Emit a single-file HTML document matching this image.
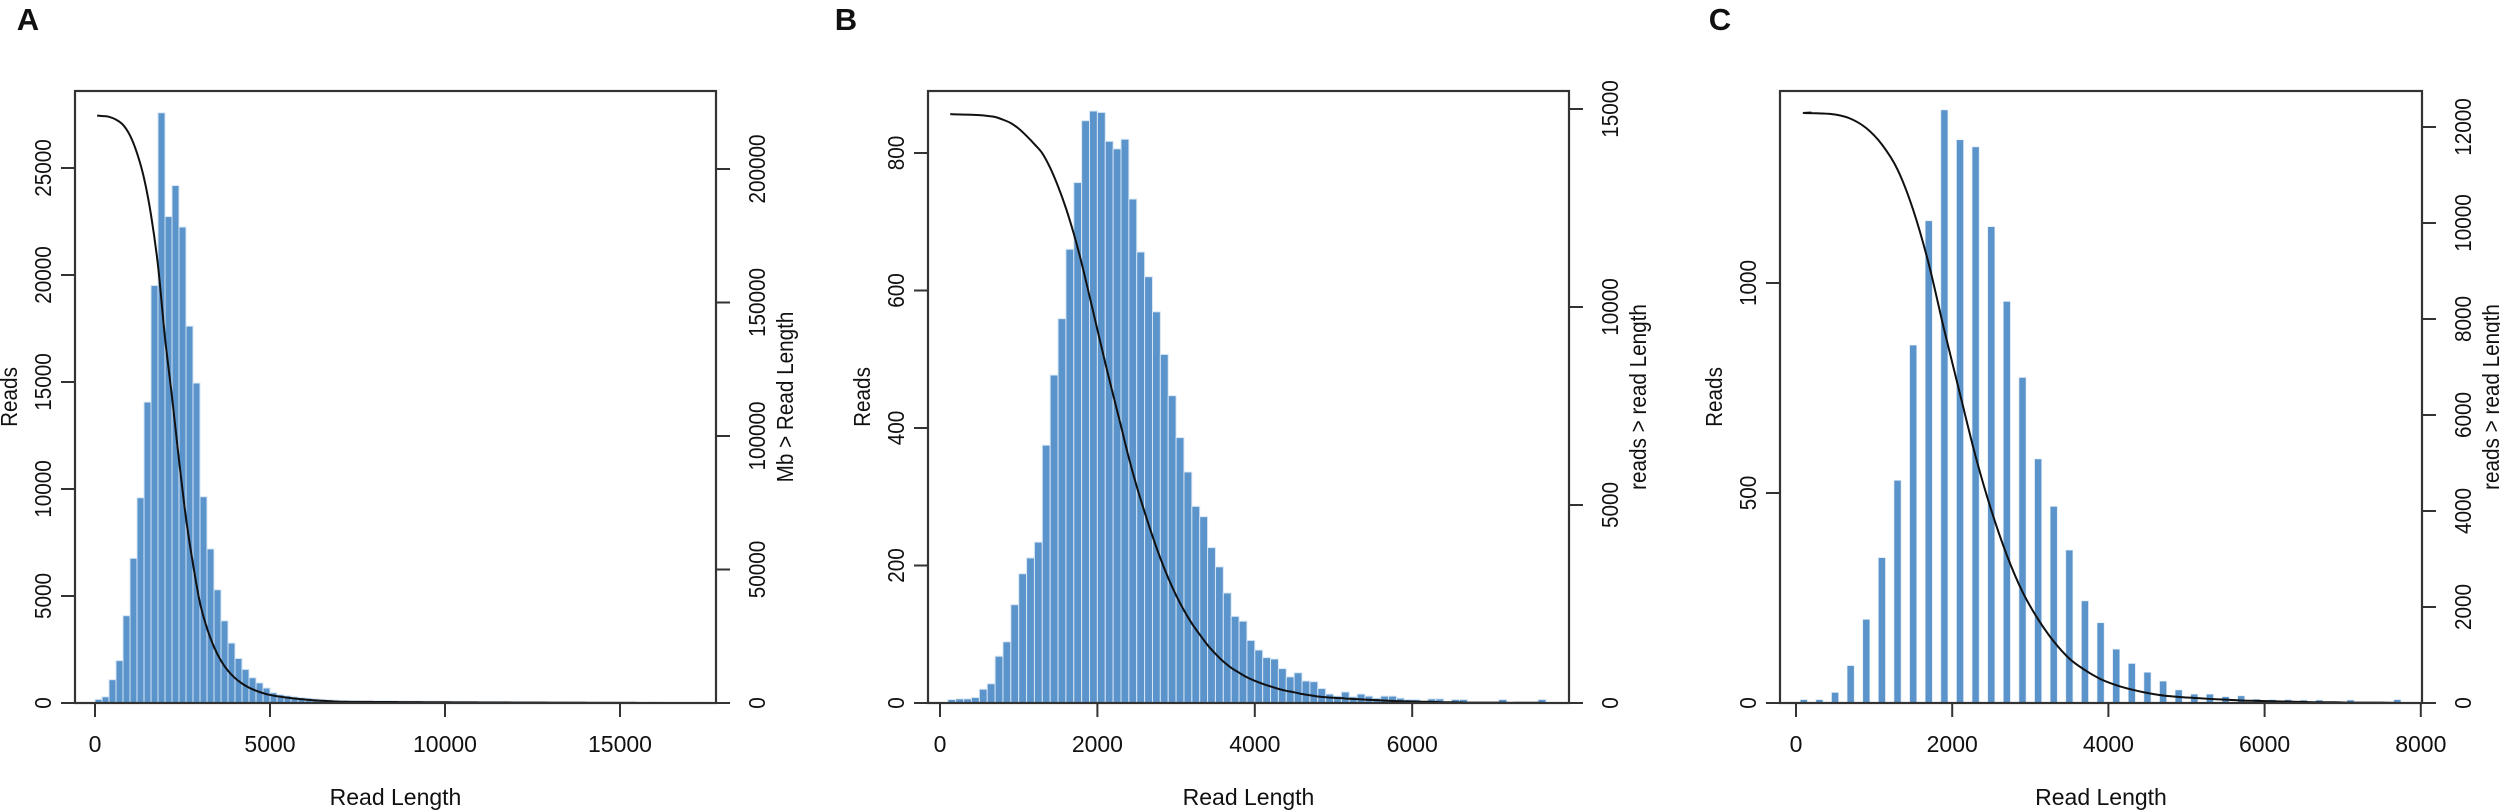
<!DOCTYPE html>
<html><head><meta charset="utf-8"><style>
html,body{margin:0;padding:0;background:#fff;}
svg{display:block;}
text{font-family:"Liberation Sans",Arial,sans-serif;fill:#111;}
</style></head><body>
<svg id="s" width="2500" height="811" viewBox="0 0 2500 811" xmlns="http://www.w3.org/2000/svg">
<text x="28" y="30" font-size="31" font-weight="bold" text-anchor="middle">A</text>
<text x="846" y="30" font-size="31" font-weight="bold" text-anchor="middle">B</text>
<text x="1720" y="30" font-size="31" font-weight="bold" text-anchor="middle">C</text>
</svg>
<script>
const NS="http://www.w3.org/2000/svg";const S=document.getElementById('s');
function el(t,a,txt){const e=document.createElementNS(NS,t);for(const k in a)e.setAttribute(k,a[k]);if(txt!==undefined)e.textContent=txt;S.appendChild(e);return e;}
const Y0=703,YT=91;
function panel(p){
  const X=v=>p.xz+v*p.kx, LY=v=>Y0-v*p.ky, RY=v=>Y0-v*p.kr;
  p.bins.forEach(b=>{const [a,w,c]=b;if(c<=0)return;
    let x1,x2;
    if(p.narrow){const m=X(a+w/2);x1=m-3.5;x2=m+3.5;}else{x1=X(a);x2=X(a+w);}
    el('rect',{x:x1,y:LY(c),width:x2-x1,height:Y0-LY(c),fill:'#5b93cb',stroke:'#d6e6f5','stroke-width':p.narrow?0.6:1});});
  let tot=0;p.bins.forEach(b=>tot+=p.wf(b));
  let rem=tot;const pts=[];
  pts.push([X(p.start),RY(p.top)]);
  p.bins.forEach(b=>{rem-=p.wf(b);const x=b[0]+b[1];pts.push([X(p.narrow?x-b[1]/2:x),RY(p.top*Math.max(0,rem)/tot)]);});
  let d='M'+pts[0][0]+','+pts[0][1];
  for(let i=0;i<pts.length-1;i++){const p0=pts[Math.max(0,i-1)],p1=pts[i],p2=pts[i+1],p3=pts[Math.min(pts.length-1,i+2)];
    d+=` C${p1[0]+(p2[0]-p0[0])/6},${p1[1]+(p2[1]-p0[1])/6} ${p2[0]-(p3[0]-p1[0])/6},${p2[1]-(p3[1]-p1[1])/6} ${p2[0]},${p2[1]}`;}
  el('path',{d:d,fill:'none',stroke:'#111','stroke-width':2});
  el('rect',{x:p.b0,y:YT,width:p.b1-p.b0,height:Y0-YT,fill:'none',stroke:'#333','stroke-width':2.2});
  p.xt.forEach(v=>{el('line',{x1:X(v),y1:Y0,x2:X(v),y2:Y0+14,stroke:'#333','stroke-width':2});
    el('text',{x:X(v),y:752,'font-size':23,'text-anchor':'middle'},String(v));});
  el('text',{x:(p.b0+p.b1)/2,y:805,'font-size':23,'text-anchor':'middle'},'Read Length');
  p.lt.forEach(v=>{el('line',{x1:p.b0,y1:LY(v),x2:p.b0-14,y2:LY(v),stroke:'#333','stroke-width':2});
    el('text',{transform:`translate(${p.b0-24},${LY(v)}) rotate(-90) scale(0.9,1)`,'font-size':23,'text-anchor':'middle'},String(v));});
  p.rt.forEach(v=>{el('line',{x1:p.b1,y1:RY(v),x2:p.b1+14,y2:RY(v),stroke:'#333','stroke-width':2});
    el('text',{transform:`translate(${p.b1+49},${RY(v)}) rotate(-90) scale(0.9,1)`,'font-size':23,'text-anchor':'middle'},String(v));});
  el('text',{transform:`translate(${p.b0-58},397) rotate(-90) scale(0.9,1)`,'font-size':23,'text-anchor':'middle'},'Reads');
  el('text',{transform:`translate(${p.b1+77},397) rotate(-90) scale(0.9,1)`,'font-size':23,'text-anchor':'middle'},p.rlab);
}
const cnt=b=>b[2];
const aC=[170,290,1090,1980,4080,6760,9590,14060,19510,27580,22730,24180,22240,17610,14950,9640,7200,5290,3840,2800,2080,1570,1180,940,700,480,390,340,290,250,220,190,170,150,130,115];
const aB=aC.map((c,i)=>[i*200,200,c]);
for(let s=7200;s<15400;s+=200){aB.push([s,200,Math.round(100-60*(s-7200)/8200)]);}
aB.push([15400,200,40],[15600,200,0],[15800,200,40],[16000,200,40],[16200,200,0],[16400,200,0],[16600,200,0],[16800,200,30],[17000,200,0],[17200,200,30]);
panel({xz:95,kx:0.035,ky:0.0214,kr:0.00267,b0:75,b1:716,bins:aB,wf:b=>b[2]*(b[0]<7000?1:0.15),start:60,top:220000,
  xt:[0,5000,10000,15000],lt:[0,5000,10000,15000,20000,25000],rt:[0,50000,100000,150000,200000],rlab:'Mb > Read Length'});
const bC=[5,6,6,8,20,28,68,89,143,188,211,234,375,477,559,660,757,847,861,859,817,806,820,733,656,620,569,507,447,386,336,286,271,226,198,160,126,119,91,77,66,64,50,38,44,32,31,21,13,10,16,9,13,10,7,10,10,7,5,5,0,6,6,0,5,5,0,0,0,0,5,0,0,0,0,5];
const bB=bC.map((c,i)=>[100+i*100,100,c]);
panel({xz:940,kx:0.0787,ky:0.6875,kr:0.0396,b0:928,b1:1569,bins:bB,wf:cnt,start:130,top:14870,
  xt:[0,2000,4000,6000],lt:[0,200,400,600,800],rt:[0,5000,10000,15000],rlab:'reads > read Length'});
const cC=[8,8,25,89,199,346,530,852,1148,1412,1341,1324,1134,956,775,581,468,364,243,191,128,94,73,52,31,21,21,15,17,9,8,8,7,7,0,7,0,0,8];
const cB=cC.map((c,i)=>[i*200,200,c]);
panel({xz:1796,kx:0.0781,ky:0.42,kr:0.048,b0:1780,b1:2422,bins:cB,wf:cnt,narrow:true,start:200,top:12300,
  xt:[0,2000,4000,6000,8000],lt:[0,500,1000],rt:[0,2000,4000,6000,8000,10000,12000],rlab:'reads > read Length'});
</script>
</body></html>
